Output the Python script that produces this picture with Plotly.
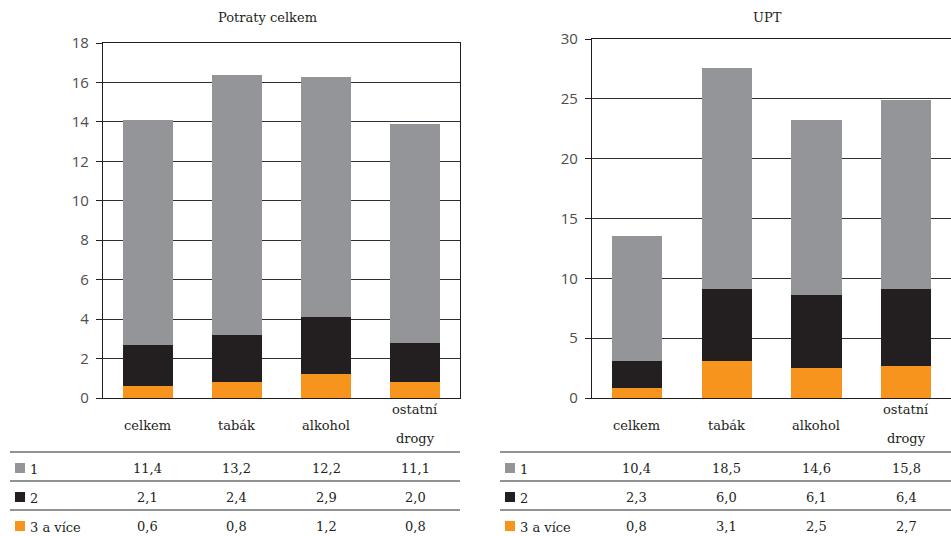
import plotly.graph_objects as go

W, H = 951, 536

# Categories and stacked values (number of ... per group)
categories = ["celkem", "tabák", "alkohol", "ostatní\ndrogy"]
series_names = ["1", "2", "3 a více"]

potraty_1 = [11.4, 13.2, 12.2, 11.1]
potraty_2 = [2.1, 2.4, 2.9, 2.0]
potraty_3 = [0.6, 0.8, 1.2, 0.8]

upt_1 = [10.4, 18.5, 14.6, 15.8]
upt_2 = [2.3, 6.0, 6.1, 6.4]
upt_3 = [0.8, 3.1, 2.5, 2.7]

left_ticks = [0, 2, 4, 6, 8, 10, 12, 14, 16, 18]
right_ticks = [0, 5, 10, 15, 20, 25, 30]

COLORS = {"1": "#939598", "2": "#231f20", "3 a více": "#f7941d"}
TEXT = "#231f20"
FONT = "DejaVu Serif"
TICK_FONT = "Open Sans"


def px_x(x):
    return x / W


def px_y(y):
    return 1 - y / H


def fmt(v):
    return f"{v:.1f}".replace(".", ",")


cat_keys = [c.replace("\n", " ") for c in categories]

fig = go.Figure()

panels = [
    dict(title="Potraty celkem", xa="x", ya="y", data=[potraty_1, potraty_2, potraty_3],
         xdom=[px_x(103), px_x(460)], ytop=43, yrange=[0, 18], ticks=left_ticks,
         title_x=267, table_x0=10, table_x1=460, sq_x=15),
    dict(title="UPT", xa="x2", ya="y2", data=[upt_1, upt_2, upt_3],
         xdom=[px_x(592), 1.0], ytop=39, yrange=[0, 30], ticks=right_ticks,
         title_x=767, table_x0=500, table_x1=951, sq_x=505),
]

annotations = []
shapes = []

for p in panels:
    series = dict(zip(series_names, p["data"]))
    # stack from bottom: 3 a více, 2, 1
    for name in ["3 a více", "2", "1"]:
        fig.add_trace(go.Bar(
            x=cat_keys, y=series[name], name=name,
            marker=dict(color=COLORS[name], line=dict(width=0)),
            xaxis=p["xa"], yaxis=p["ya"], showlegend=False,
        ))

    # title
    annotations.append(dict(text=p["title"], x=px_x(p["title_x"]), y=px_y(17),
                            xref="paper", yref="paper", showarrow=False,
                            font=dict(family=FONT, size=13, color=TEXT),
                            xanchor="center", yanchor="middle"))

    # category labels under the axis
    for key, cat in zip(cat_keys, categories):
        lines = cat.split("\n")
        if len(lines) == 1:
            ys = [425]
        else:
            ys = [409, 438]
        for line, yy in zip(lines, ys):
            annotations.append(dict(text=line, x=key, y=px_y(yy), xref=p["xa"], yref="paper",
                                    showarrow=False, xanchor="center", yanchor="middle",
                                    font=dict(family=FONT, size=13, color=TEXT)))

    # data table below the chart
    for ly in [452, 481, 510]:
        shapes.append(dict(type="line", xref="paper", yref="paper",
                           x0=px_x(p["table_x0"]), x1=px_x(p["table_x1"]),
                           y0=px_y(ly), y1=px_y(ly),
                           line=dict(color="#6d6e71", width=1.5)))
    row_y = [468, 497, 526]
    for name, vals, ry in zip(series_names, p["data"], row_y):
        shapes.append(dict(type="rect", xref="paper", yref="paper",
                           x0=px_x(p["sq_x"]), x1=px_x(p["sq_x"] + 10),
                           y0=px_y(ry + 5), y1=px_y(ry - 5),
                           fillcolor=COLORS[name], line=dict(width=0)))
        annotations.append(dict(text=name, x=px_x(p["sq_x"] + 13), y=px_y(ry + 1),
                                xref="paper", yref="paper", showarrow=False,
                                xanchor="left", yanchor="middle",
                                font=dict(family=FONT, size=13, color=TEXT)))
        for key, v in zip(cat_keys, vals):
            annotations.append(dict(text=fmt(v), x=key, y=px_y(ry), xref=p["xa"], yref="paper",
                                    showarrow=False, xanchor="center", yanchor="middle",
                                    font=dict(family=FONT, size=13, color=TEXT)))

axis_common_x = dict(type="category", showticklabels=False, ticks="", showgrid=False,
                     showline=True, linecolor="#231f20", linewidth=1.2, mirror=True,
                     automargin=False, fixedrange=True)


def yaxis(p):
    return dict(domain=[px_y(398), px_y(p["ytop"])], range=p["yrange"],
                tickvals=p["ticks"], ticktext=[str(t) for t in p["ticks"]],
                ticks="outside", ticklen=6, tickcolor="#231f20", tickwidth=1,
                ticklabelstandoff=4,
                showgrid=True, gridcolor="#2e2e2e", gridwidth=1,
                showline=True, linecolor="#231f20", linewidth=1.3, mirror=True,
                zeroline=False, automargin=False,
                tickfont=dict(family=TICK_FONT, size=15, color="#4d4d4d"))


fig.update_layout(
    template="none",
    width=W, height=H,
    margin=dict(l=0, r=0, t=0, b=0, pad=0),
    paper_bgcolor="white", plot_bgcolor="white",
    barmode="stack", bargap=0.44,
    xaxis=dict(domain=panels[0]["xdom"], anchor="y", **axis_common_x),
    yaxis=dict(anchor="x", **yaxis(panels[0])),
    xaxis2=dict(domain=panels[1]["xdom"], anchor="y2", **axis_common_x),
    yaxis2=dict(anchor="x2", **yaxis(panels[1])),
    annotations=annotations,
    shapes=shapes,
    font=dict(family=FONT, color=TEXT),
)

fig.write_html("out.html")
